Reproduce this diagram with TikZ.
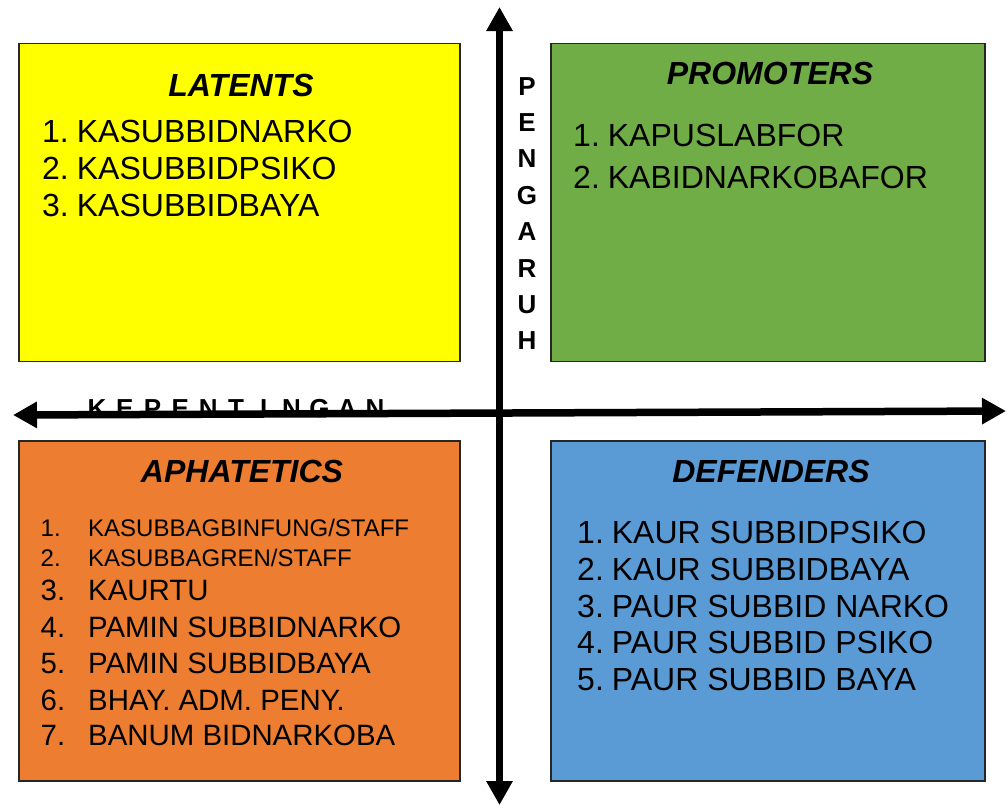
\documentclass[tikz,border=0pt]{standalone}
\usepackage{fontspec}
\setmainfont{Liberation Sans}
\usetikzlibrary{arrows.meta}
\definecolor{cyel}{HTML}{FFFF00}
\definecolor{cgrn}{HTML}{70AD47}
\definecolor{corg}{HTML}{ED7D31}
\definecolor{cblu}{HTML}{5B9BD5}
\newcommand{\nsp}{\hspace{0.25em}}
\begin{document}
\begin{tikzpicture}[x=1pt,y=-1pt,
  quad/.style={draw=black!85, line width=1.5pt, inner sep=0pt, outer sep=0pt, anchor=north west},
  ttl/.style={font=\fontsize{32}{38}\selectfont\bfseries\itshape, anchor=base, inner sep=0pt},
  item/.style={font=\fontsize{32}{38}\selectfont, anchor=base west, inner sep=0pt},
  itemm/.style={font=\fontsize{29.4}{34}\selectfont, anchor=base west, inner sep=0pt},
  items/.style={font=\fontsize{24}{29}\selectfont, anchor=base west, inner sep=0pt},
  axl/.style={font=\fontsize{26}{30}\selectfont\bfseries, anchor=base, inner sep=0pt},
  axis/.style={line width=7.5pt, {Triangle[length=24pt,width=25pt]}-{Triangle[length=24pt,width=25pt]}}
]
\useasboundingbox (0,0) rectangle (1008,807);
% quadrant boxes
\node (lat) [quad, fill=cyel, minimum width=441pt, minimum height=318pt] at (19,43.5) {};
\node (pro) [quad, fill=cgrn, minimum width=434pt, minimum height=318pt] at (551,43.5) {};
\node (aph) [quad, fill=corg, minimum width=441pt, minimum height=340pt] at (19,441) {};
\node (def) [quad, fill=cblu, minimum width=434pt, minimum height=340pt] at (551,441) {};
% titles
\node (latt) [ttl] at (241,96) {LATENTS};
\node (prot) [ttl] at (770,84) {PROMOTERS};
\node (apht) [ttl] at (242,482) {APHATETICS};
\node (deft) [ttl] at (771,482) {DEFENDERS};
% latents list
\node (l1) [item] at (42,142.5) {1.\nsp KASUBBIDNARKO};
\node (l2) [item] at (42,179.5) {2.\nsp KASUBBIDPSIKO};
\node (l3) [item] at (42,216.5) {3.\nsp KASUBBIDBAYA};
% promoters list
\node (p1) [item] at (573,146) {1.\nsp KAPUSLABFOR};
\node (p2) [item] at (573,188) {2.\nsp KABIDNARKOBAFOR};
% defenders list
\node (d1) [item] at (577,543) {1.\nsp KAUR SUBBIDPSIKO};
\node (d2) [item] at (577,580) {2.\nsp KAUR SUBBIDBAYA};
\node (d3) [item] at (577,617) {3.\nsp PAUR SUBBID NARKO};
\node (d4) [item] at (577,653.5) {4.\nsp PAUR SUBBID PSIKO};
\node (d5) [item] at (577,690.5) {5.\nsp PAUR SUBBID BAYA};
% aphatetics list
\node (a1n) [items] at (40.5,536) {1.};
\node (a1) [items] at (88,536) {KASUBBAGBINFUNG/STAFF};
\node (a2n) [items] at (40.5,566) {2.};
\node (a2) [items] at (88,566) {KASUBBAGREN/STAFF};
\node (a3n) [itemm] at (40.5,600) {3.};
\node (a3) [itemm] at (88,600) {KAURTU};
\node (a4n) [itemm] at (40.5,637) {4.};
\node (a4) [itemm] at (88,637) {PAMIN SUBBIDNARKO};
\node (a5n) [itemm] at (40.5,673) {5.};
\node (a5) [itemm] at (88,673) {PAMIN SUBBIDBAYA};
\node (a6n) [itemm] at (40.5,710) {6.};
\node (a6) [itemm] at (88,710) {BHAY. ADM. PENY.};
\node (a7n) [itemm] at (40.5,745.5) {7.};
\node (a7) [itemm] at (88,745.5) {BANUM BIDNARKOBA};
% axis labels
\foreach \l [count=\i] in {P,E,N,G,A,R,U,H}
  \node (pg\i) [axl] at (527,{95+36.4*(\i-1)}) {\l};
\foreach \l [count=\i] in {K,E,P,E,N,T,I,N,G,A,N}
  \node (kp\i) [axl] at ({97+27.8*(\i-1)},417) {\l};
% axes
\coordinate (vtop) at (499.5,7);
\coordinate (vbot) at (499.5,805);
\coordinate (hl) at (13,415);
\coordinate (hr) at (1006,411);
\draw[axis] (vbot) -- (vtop);
\draw[axis] (hl) -- (hr);
\end{tikzpicture}
\end{document}
